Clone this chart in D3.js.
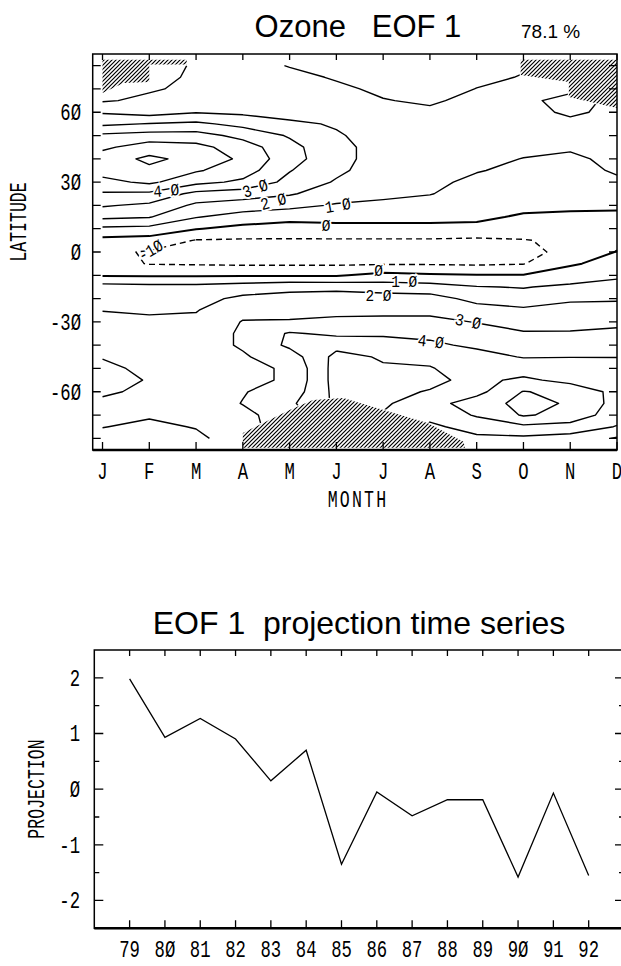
<!DOCTYPE html>
<html>
<head>
<meta charset="utf-8">
<script src="https://cdn.jsdelivr.net/npm/d3@7"></script>
<style>
  body { margin: 0; background: #fff; }
  svg { display: block; }
  .mono { font-family: "Liberation Mono", "DejaVu Sans Mono", monospace; }
  .sans { font-family: "Liberation Sans", Arial, sans-serif; }
</style>
</head>
<body>
<svg id="chart" width="621" height="966"></svg>
<script>
// ---- data ----
var monthLabels = ['J', 'F', 'M', 'A', 'M', 'J', 'J', 'A', 'S', 'O', 'N', 'D'];
var latTicks = [-80, -70, -60, -50, -40, -30, -20, -10, 0, 10, 20, 30, 40, 50, 60, 70, 80];
var latLabels = [-60, -30, 0, 30, 60];
var lats = [80, 75, 70, 65, 60, 55, 50, 45, 40, 35, 30, 25, 20, 15, 10, 5, 0,
            -5, -10, -15, -20, -25, -30, -35, -40, -45, -50, -55, -60, -65, -70, -75, -80];

// EOF 1 loadings, one row per latitude (80N .. 80S), one column per month (J .. D)
var ozone = [
  [5, 8, 10.5, 16, 20.5, 23, 25, 27, 24, 21, 19.5, 19.5],
  [5, 8, 11, 14, 17, 21, 24, 26, 22, 19.5, 19, 19.5],
  [6, 9, 12, 13, 15, 18, 22, 24, 19.8, 18.5, 18, 19],
  [9, 12, 14, 13, 14, 16, 19.5, 21.5, 17, 18, 23, 18],
  [19, 16, 19.5, 18, 16, 17, 17, 18, 16, 16, 22, 17],
  [28, 30.5, 32, 27, 22, 19, 16, 16, 15, 15, 17, 15],
  [42, 44, 44, 37, 29, 21, 16, 15, 14, 13, 14, 14],
  [48, 55, 53, 45, 33, 23, 16, 14, 13, 12, 11, 13],
  [55, 62, 57, 48, 34, 23, 16, 14, 12, 9.8, 8.5, 12],
  [54, 58, 51, 45, 30.5, 22, 15, 13, 10.5, 8, 7, 11],
  [47, 52, 43, 38, 27, 19, 14, 12, 8, 7, 6, 8.5],
  [39, 38, 27, 25, 21, 15, 12, 10.3, 7, 6, 4, 5],
  [31, 28, 18, 15, 13, 9, 8, 7, 5, 4, 2, 1.5],
  [22, 20.5, 10.5, 6, 3, 3, 3, 3, 3, -2, -2, -2],
  [8, 7, 0.5, -3, -4, -3, -3, -3, -4, -5, -6, -4],
  [-3, -4, -10.5, -11, -11, -11, -11, -11, -11.5, -10.5, -8, -3],
  [-8, -10.8, -12, -13, -13, -13, -13, -13, -12.5, -11, -9, 0.5],
  [-6, -10.5, -11, -11.5, -11.5, -11.5, -11, -11, -11.5, -10.5, -1, 3],
  [-1, -1, -1, -1, -1, -1, 3, 1.5, 0.5, 0.5, 4, 8.5],
  [14, 13, 13, 15, 17.5, 17, 15, 14, 10.5, 9.5, 12, 13],
  [17, 16, 17, 22, 23, 25, 24.6, 24, 17, 14, 18, 19],
  [19.8, 19, 19.5, 27, 26, 27, 28, 27, 24, 22, 24.5, 23.5],
  [22, 21.5, 22, 30.5, 31, 32.5, 32, 33, 29.5, 26, 26.5, 28],
  [24, 23, 24, 31.5, 41, 38, 38, 38, 35, 31, 31, 32],
  [26, 25, 26, 31, 42, 47, 46, 41.5, 38.5, 35, 35, 36],
  [29.5, 27, 27, 29, 35, 53, 49, 48, 43, 39.5, 39.8, 39.8],
  [32, 28, 28, 27, 31.5, 54, 51, 50.5, 46, 45, 44, 43],
  [33, 29.5, 28, 27, 31.5, 54, 52, 52, 47.5, 52, 47, 45],
  [31.5, 28, 27, 29.5, 34, 53, 52, 49.5, 47, 60.5, 57, 47],
  [28, 25, 25, 30.3, 38, 52, 51, 46, 55, 63, 59, 46.5],
  [24, 21, 22, 28, 34, 51, 49.5, 43, 51, 61, 57, 44],
  [20.3, 18, 20.5, 26, 36, 50, 49, 38, 44, 48, 46, 39.5],
  [17, 16, 18, 25, 40, 48, 47, 34, 38, 38, 36, 29]
];
var levels = [-10, 0, 10, 20, 30, 40, 50, 60];

// missing data (polar night), [month, lat]
var hatchNW = [[0, 82.5], [1.8, 82.5], [1.8, 80.5], [1, 80.5], [1, 73], [0.45, 72.6], [0, 68.3]];
var hatchNE = [[8.94, 82.5], [11, 82.5], [11, 61.8], [9.97, 66.5], [9.97, 73], [8.94, 76]];
var hatchS = [[3, -84], [3, -77.7], [4, -67.8], [4.5, -63.5], [5.15, -62.7], [5.5, -64.8],
              [6.95, -73.4], [7.72, -81.5], [7.75, -84]];
var hatchAreas = [hatchNW, hatchNE, hatchS];

// contour labels: [month, lat, text, angle]
var contourLabels = [
  [1.36, 26.6, '4 0', -5], [3.26, 27.5, '3 0', -19], [3.65, 21.9, '2 0', -15],
  [5.03, 20.2, '1 0', -10], [4.78, 11.6, '0', 0], [1.02, 0.9, '-10', -30],
  [5.9, -7.6, '0', 0], [6.45, -12.2, '1 0', 0], [5.9, -18.4, '2 0', 0],
  [7.82, -29.6, '3 0', 11], [7.02, -38.2, '4 0', 7]
];

var years = [79, 80, 81, 82, 83, 84, 85, 86, 87, 88, 89, 90, 91, 92];
var projection = [1.98, 0.93, 1.27, 0.90, 0.15, 0.70, -1.35, -0.05, -0.48, -0.19, -0.19, -1.58, -0.07, -1.55];
var projTicks = [-2, -1.5, -1, -0.5, 0, 0.5, 1, 1.5, 2];
var projLabels = [-2, -1, 0, 1, 2];

// ---- helpers ----
var W = 621, H = 966;
var svg = d3.select('#chart');
var defs = svg.append('defs');
function zslash(s) { return String(s).replace(/0/g, '\u00D8'); }

function monoText(g, x, y, str, size, anchor, rot, sx) {
  return g.append('text')
    .attr('class', 'mono')
    .attr('transform', 'translate(' + x + ',' + y + ')' + (rot ? ' rotate(' + rot + ')' : '') + ' scale(' + (sx || 0.72) + ',1)')
    .attr('text-anchor', anchor || 'middle')
    .style('font-size', size + 'px')
    .style('white-space', 'pre')
    .text(str);
}

// marching squares, returns polylines in [colIndex, rowIndex]
function isolines(grid, t) {
  var nr = grid.length, nc = grid[0].length, segs = [];
  for (var j = 0; j < nr - 1; j++) {
    for (var i = 0; i < nc - 1; i++) {
      var a = grid[j][i], b = grid[j][i + 1], c = grid[j + 1][i + 1], d = grid[j + 1][i];
      var A = a >= t, B = b >= t, C = c >= t, D = d >= t;
      var top = A !== B ? { k: 'h' + j + '_' + i, p: [i + (t - a) / (b - a), j] } : null;
      var right = B !== C ? { k: 'v' + (i + 1) + '_' + j, p: [i + 1, j + (t - b) / (c - b)] } : null;
      var bottom = D !== C ? { k: 'h' + (j + 1) + '_' + i, p: [i + (t - d) / (c - d), j + 1] } : null;
      var left = A !== D ? { k: 'v' + i + '_' + j, p: [i, j + (t - a) / (d - a)] } : null;
      var list = [top, right, bottom, left].filter(Boolean);
      if (list.length === 2) segs.push(list);
      else if (list.length === 4) {
        var centre = (a + b + c + d) / 4 >= t;
        if (A !== centre) { segs.push([top, left]); segs.push([right, bottom]); }
        else { segs.push([top, right]); segs.push([bottom, left]); }
      }
    }
  }
  var byKey = {};
  segs.forEach(function(s, idx) {
    s.forEach(function(e) { (byKey[e.k] = byKey[e.k] || []).push(idx); });
  });
  var used = segs.map(function() { return false; });
  function grow(line) {
    while (true) {
      var last = line[line.length - 1];
      var next = (byKey[last.k] || []).filter(function(k) { return !used[k]; });
      if (!next.length) break;
      used[next[0]] = true;
      var s = segs[next[0]];
      line.push(s[0].k === last.k ? s[1] : s[0]);
    }
    return line;
  }
  var lines = [];
  segs.forEach(function(s, idx) {
    if (used[idx]) return;
    used[idx] = true;
    var line = grow([s[0], s[1]]);
    line.reverse();
    line = grow(line);
    lines.push(line.map(function(e) { return e.p; }));
  });
  return lines;
}

// ---- top panel: contour map ----
var p1 = { left: 92.7, right: 617, top: 54, bottom: 450 };
var x1 = d3.scaleLinear().domain([-0.21, 11]).range([p1.left, p1.right]);
var y1 = d3.scaleLinear().domain([-85, 85]).range([p1.bottom, p1.top]);
var rowLat = d3.scaleLinear().domain([0, lats.length - 1]).range([lats[0], lats[lats.length - 1]]);

var hatch = defs.append('pattern').attr('id', 'hatch')
  .attr('patternUnits', 'userSpaceOnUse').attr('width', 4).attr('height', 4);
hatch.append('path').attr('d', 'M-1,1 l2,-2 M0,4 l4,-4 M3,5 l2,-2')
  .attr('stroke', '#000').attr('stroke-width', 1.2);

var areaPath = function(pts) {
  return d3.line().x(function(d) { return x1(d[0]); }).y(function(d) { return y1(d[1]); })(pts) + 'Z';
};

var mask = defs.append('mask').attr('id', 'holes')
  .attr('maskUnits', 'userSpaceOnUse').attr('x', 0).attr('y', 0).attr('width', W).attr('height', H);
mask.append('rect').attr('width', W).attr('height', H).attr('fill', '#fff');
mask.selectAll('path').data(hatchAreas).enter().append('path')
  .attr('d', areaPath).attr('fill', '#000').attr('stroke', '#000').attr('stroke-width', 2);

svg.append('g').selectAll('path').data(hatchAreas).enter().append('path')
  .attr('d', areaPath).attr('fill', 'url(#hatch)');

var contourLine = d3.line()
  .x(function(p) { return x1(p[0]); })
  .y(function(p) { return y1(rowLat(p[1])); });

var cg = svg.append('g').attr('mask', 'url(#holes)');
levels.forEach(function(lv) {
  cg.append('g').selectAll('path').data(isolines(ozone, lv)).enter().append('path')
    .attr('d', contourLine)
    .attr('fill', 'none')
    .attr('stroke', '#000')
    .attr('stroke-width', lv === 0 ? 2 : 1.4)
    .attr('stroke-linejoin', 'round')
    .attr('stroke-dasharray', lv < 0 ? '6,4' : null);
});

var lg = svg.append('g');
contourLabels.forEach(function(l) {
  monoText(lg, x1(l[0]), y1(l[1]), zslash(l[2]), 17, 'middle', l[3], 0.85)
    .attr('dy', '0.36em')
    .attr('stroke', '#fff').attr('stroke-width', 4)
    .style('paint-order', 'stroke');
});

// frame and ticks
var f1 = svg.append('g').attr('stroke', '#000').attr('fill', 'none');
f1.append('rect').attr('x', p1.left).attr('y', p1.top)
  .attr('width', p1.right - p1.left).attr('height', p1.bottom - p1.top).attr('stroke-width', 1.5);
f1.append('line').attr('x1', p1.left).attr('x2', p1.right).attr('y1', p1.bottom).attr('y2', p1.bottom).attr('stroke-width', 2.6);
f1.selectAll('.tl').data(latTicks).enter().append('path')
  .attr('d', function(d) { return 'M' + p1.left + ',' + y1(d) + 'h8M' + p1.right + ',' + y1(d) + 'h-8'; })
  .attr('stroke-width', 1.3);
f1.selectAll('.tm').data(monthLabels).enter().append('path')
  .attr('d', function(d, i) { return 'M' + x1(i) + ',' + p1.bottom + 'v-8M' + x1(i) + ',' + p1.top + 'v6'; })
  .attr('stroke-width', 1.3);

var t1 = svg.append('g');
monthLabels.forEach(function(m, i) { monoText(t1, x1(i), 479, m, 24); });
latLabels.forEach(function(v) { monoText(t1, 81, y1(v) + 8, zslash(v), 24, 'end'); });
monoText(t1, 358, 507, 'MONTH', 23).style('letter-spacing', '3px');
monoText(t1, 26, 222, 'LATITUDE', 23, 'middle', -90);

svg.append('text').attr('class', 'sans').attr('x', 358).attr('y', 37)
  .attr('text-anchor', 'middle').style('font-size', '31px').style('white-space', 'pre')
  .text('Ozone   EOF 1');
svg.append('text').attr('class', 'sans').attr('x', 521).attr('y', 38)
  .style('font-size', '19px').text('78.1 %');

// ---- bottom panel: projection time series ----
var p2 = { left: 94.3, right: 624, top: 650, bottom: 928.3 };
var x2 = d3.scaleLinear().domain([78, 93]).range([p2.left, p2.right]);
var y2 = d3.scaleLinear().domain([-2.5, 2.5]).range([p2.bottom, p2.top]);

svg.append('text').attr('class', 'sans').attr('x', 359).attr('y', 634)
  .attr('text-anchor', 'middle').style('font-size', '32px').style('white-space', 'pre')
  .text('EOF 1  projection time series');

var f2 = svg.append('g').attr('stroke', '#000').attr('fill', 'none');
f2.append('rect').attr('x', p2.left).attr('y', p2.top)
  .attr('width', p2.right - p2.left).attr('height', p2.bottom - p2.top).attr('stroke-width', 1.5);
f2.append('line').attr('x1', p2.left).attr('x2', p2.right).attr('y1', p2.bottom).attr('y2', p2.bottom).attr('stroke-width', 2.4);
f2.selectAll('.ty').data(projTicks).enter().append('path')
  .attr('d', function(d) {
    var len = d % 1 === 0 ? 9 : 5;
    return 'M' + p2.left + ',' + y2(d) + 'h' + len + 'M' + p2.right + ',' + y2(d) + 'h' + (-len);
  })
  .attr('stroke-width', 1.3);
f2.selectAll('.tx').data(years).enter().append('path')
  .attr('d', function(d) { return 'M' + x2(d) + ',' + p2.bottom + 'v-8M' + x2(d) + ',' + p2.top + 'v6'; })
  .attr('stroke-width', 1.3);

svg.append('path').datum(projection)
  .attr('d', d3.line().x(function(d, i) { return x2(years[i]); }).y(function(d) { return y2(d); }))
  .attr('fill', 'none').attr('stroke', '#000').attr('stroke-width', 1.3).attr('stroke-linejoin', 'miter');

var t2 = svg.append('g');
years.forEach(function(yr) { monoText(t2, x2(yr), 957, zslash(yr), 24); });
projLabels.forEach(function(v) { monoText(t2, 80, y2(v) + 8, zslash(v), 24, 'end'); });
monoText(t2, 44, 789, 'PROJECTION', 23, 'middle', -90);
</script>
</body>
</html>
